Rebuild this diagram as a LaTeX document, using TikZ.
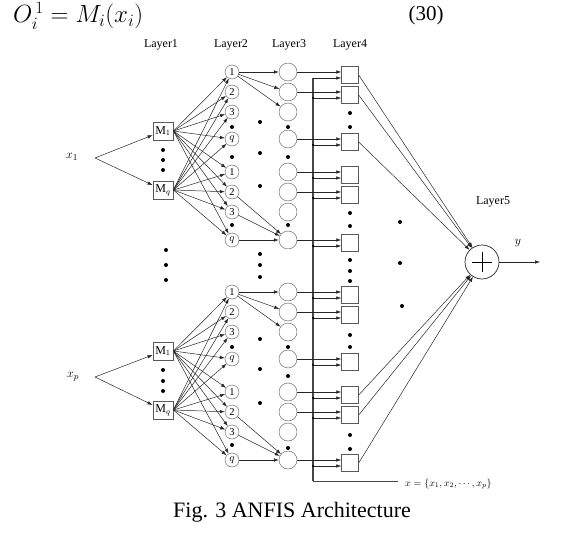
\documentclass[tikz,border=0pt]{standalone}
\usepackage{fontspec}
\setmainfont{Liberation Serif}
\usetikzlibrary{arrows.meta}

\begin{document}
\begin{tikzpicture}[
    x=1pt, y=-1pt,
    every node/.style={font=\fontsize{12}{14}\selectfont, inner sep=1pt},
    mfbox/.style    = {draw=gray!70!black, line width=0.8pt, fill=white,
                       minimum width=20pt, minimum height=18pt, inner sep=0pt},
    rulenode/.style = {circle, draw=gray!70!black, fill=white, minimum size=14pt,
                       inner sep=0pt, font=\fontsize{10.5}{10}\selectfont},
    normnode/.style = {circle, draw=gray!70!black, fill=white, minimum size=18pt, inner sep=0pt},
    consbox/.style  = {draw=gray!70!black, fill=white, minimum width=17pt,
                       minimum height=17pt, inner sep=0pt},
    conn/.style     = {draw=black!85, line width=0.5pt, -{Latex[length=5pt,width=3.5pt]}},
    busline/.style  = {draw=gray!55!black, line width=1.4pt},
    ellip/.style    = {circle, fill=black, inner sep=0pt, minimum size=4pt},
    joint/.style    = {circle, fill=black, inner sep=0pt, minimum size=2.5pt},
  ]
  \useasboundingbox (0,0) rectangle (585,537);

  \node[font=\fontsize{23}{26}\selectfont, anchor=west] (eq) at (12,16) {$O^{\,1}_{i} = M_i(x_i)$};
  \node[font=\fontsize{21}{24}\selectfont] (eqno) at (426,15) {(30)};

  \node (lay1) at (161,45) {Layer1};
  \node (lay2) at (231,45) {Layer2};
  \node (lay3) at (289,45) {Layer3};
  \node (lay4) at (350,45) {Layer4};
  \node (lay5) at (493,202) {Layer5};

  \node[font=\fontsize{13}{14}\selectfont] (x1) at (72,157) {$x_1$};
  \node[font=\fontsize{13}{14}\selectfont] (xp) at (73,377) {$x_p$};
  \coordinate (xin1) at (95,158);
  \coordinate (xin2) at (95,377);

  \coordinate (bus11) at (313,78);
  \coordinate (busend) at (313,481);
  \coordinate (xend) at (398,481);
  \draw[busline] (bus11) -- (busend);
  \draw[line width=0.7pt, gray!55!black] (busend) -- (xend);
  \node[font=\fontsize{10}{11}\selectfont, anchor=west] (xset) at (404,484)
    {$x=\{x_1,x_2,\cdots,x_p\}$};

  \foreach \g/\dy in {1/0, 2/220} {
    \node[mfbox] (m\g a) at (163,131+\dy) {M$_1$};
    \node[mfbox] (m\g b) at (163,190+\dy) {M$_q$};
    \draw[conn] (xin\g) -- (m\g a);
    \draw[conn] (xin\g) -- (m\g b);
    \foreach \k/\y/\t in {1/72/1, 2/92/2, 3/112/3, 4/139/$q$, 5/172/1, 6/192/2, 7/212/3, 8/240/$q$} {
      \node[rulenode] (r\g\k) at (232,\y+\dy) {\t};
      \node[normnode] (n\g\k) at (288,\y+\dy) {};
      \draw[conn] (m\g a.east) -- (r\g\k);
      \draw[conn] (m\g b.east) -- (r\g\k);
    }
    \draw[conn] (r\g1) -- (n\g1);
    \draw[conn] (r\g1) -- (n\g2);
    \draw[conn] (r\g1) -- (n\g3);
    \draw[conn] (r\g6) -- (n\g8);
    \draw[conn] (r\g7) -- (n\g8);
    \draw[conn] (r\g8) -- (n\g8);
    \foreach \k/\y in {1/72, 2/92, 4/139, 5/172, 6/192, 8/240} {
      \node[consbox] (s\g\k) at (350,\y+\dy+3) {};
      \coordinate (bus\g\k) at (313,\y+\dy+6);
      \draw[conn] (n\g\k.east) -- (n\g\k.east -| s\g\k.west);
      \draw[conn] (bus\g\k) -- (bus\g\k -| s\g\k.west);
    }
  }
  \foreach \p in {12,14,15,16,18,21,22,24,25,26,28}
    \node[joint] at (bus\p) {};

  \node[circle, draw=black!85, line width=0.7pt, minimum size=34pt, inner sep=0pt] (sum) at (482,262) {};
  \draw[line width=0.6pt] ([xshift=-10pt]sum.center) -- ([xshift=10pt]sum.center);
  \draw[line width=0.6pt] ([yshift=-10pt]sum.center) -- ([yshift=10pt]sum.center);
  \foreach \s in {s11,s12,s14,s25,s26,s28}
    \draw[conn] (\s.east) -- (sum);
  \coordinate (yout) at (540,262);
  \draw[conn] (sum) -- (yout);
  \node[font=\fontsize{13}{14}\selectfont] (ylab) at (518,243) {$y$};

  \foreach \x/\y in {163/150, 163/160, 163/170, 166/250, 166/265, 166/280,
                     163/370, 163/381, 163/391,
                     232/127, 232/157, 232/225, 232/347, 232/445,
                     260/122, 260/153, 260/186, 260/254, 260/265, 260/277,
                     260/339, 260/369, 260/403,
                     288/127, 288/157, 288/225, 288/347, 288/376, 288/448,
                     350/113, 350/127, 350/213, 350/226, 350/260, 350/271, 350/281,
                     350/335, 350/347, 350/435, 350/449,
                     400/222, 400/263, 402/306}
    \node[ellip] at (\x,\y) {};

  \node[font=\fontsize{22}{26}\selectfont] (cap) at (292,512) {Fig. 3 ANFIS Architecture};
\end{tikzpicture}
\end{document}
